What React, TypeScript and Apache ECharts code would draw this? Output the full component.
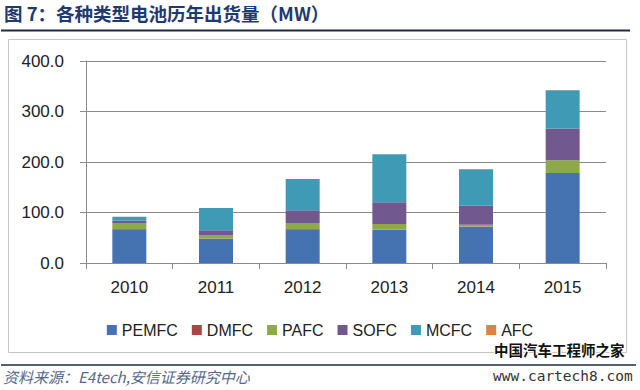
import React, { useEffect, useRef } from "react";
import * as echarts from "echarts";

const years = ["2010", "2011", "2012", "2013", "2014", "2015"];
const seriesNames = ["PEMFC", "DMFC", "PAFC", "SOFC", "MCFC", "AFC"];
const PEMFC = [67, 48, 67, 66, 72, 178];
const DMFC = [0.4, 0.3, 0.3, 0.3, 0.3, 0.3];
const PAFC = [12, 6, 12, 11, 3.5, 25];
const SOFC = [5, 10.5, 25, 43, 37.5, 63];
const MCFC = [7, 44, 62, 95, 72.5, 76];
const AFC = [0.1, 0.1, 0.1, 0.1, 0.1, 0.1];
const colors = ["#4572B0", "#AA4643", "#8DAA4B", "#71588F", "#3F9BB5", "#DB843D"];

const titleText = "图 7：各种类型电池历年出货量（MW）";
const sourceText = "资料来源：E4tech,安信证券研究中心";

export default function App() {
  const ref = useRef<HTMLDivElement>(null);
  useEffect(() => {
    if (!ref.current) return;
    const chart = echarts.init(ref.current, null, { renderer: "svg" });
    const dataSets = [PEMFC, DMFC, PAFC, SOFC, MCFC, AFC];
    const font = "'Liberation Sans', Arial, sans-serif";
    chart.setOption({
      animation: false,
      color: colors,
      textStyle: { fontFamily: font },
      grid: { left: 86, right: 34, top: 61, bottom: 127, containLabel: false },
      legend: {
        data: seriesNames,
        left: "center",
        top: 317,
        icon: "rect",
        itemWidth: 10,
        itemHeight: 10,
        itemGap: 14,
        textStyle: { fontSize: 16, color: "#222", fontFamily: font },
      },
      xAxis: {
        type: "category",
        data: years,
        axisLine: { show: true, lineStyle: { color: "#8a8a8a", width: 1 } },
        axisTick: { show: true, length: 6, lineStyle: { color: "#8a8a8a" } },
        axisLabel: { fontSize: 17, color: "#222", margin: 16, fontFamily: font },
      },
      yAxis: {
        type: "value",
        min: 0,
        max: 400,
        interval: 100,
        axisLine: { show: true, lineStyle: { color: "#8a8a8a", width: 1 } },
        axisTick: { show: true, length: 6, lineStyle: { color: "#8a8a8a" } },
        axisLabel: {
          fontSize: 17,
          color: "#222",
          margin: 22,
          fontFamily: font,
          formatter: (v: number) => v.toFixed(1),
        },
        splitLine: { show: true, lineStyle: { color: "#8a8a8a", width: 1 } },
      },
      series: seriesNames.map((name, i) => ({
        name,
        type: "bar",
        stack: "total",
        barWidth: 34,
        data: dataSets[i],
        itemStyle: { color: colors[i] },
      })),
      graphic: [
        {
          type: "text",
          left: 4,
          top: 4,
          style: {
            text: titleText,
            fontSize: 18.5,
            fontWeight: "bold",
            fill: "#1F3A70",
            fontFamily: "'Noto Sans CJK SC', sans-serif",
          },
        },
        {
          type: "line",
          shape: { x1: 1, y1: 30.5, x2: 630, y2: 30.5 },
          style: { stroke: "#1d2a48", lineWidth: 2 },
        },
        {
          type: "rect",
          shape: { x: 8.5, y: 39.5, width: 618, height: 313 },
          style: { fill: "none", stroke: "#c4c4c4", lineWidth: 1 },
          z: -1,
        },
        {
          type: "line",
          shape: { x1: 1, y1: 365, x2: 636, y2: 365 },
          style: { stroke: "#1d2a48", lineWidth: 1.5 },
        },
        {
          type: "text",
          left: 3,
          top: 369,
          style: {
            text: sourceText,
            fontSize: 15,
            fontStyle: "italic",
            fill: "#56688a",
            fontFamily: "'Noto Sans CJK SC', sans-serif",
          },
        },
        {
          type: "text",
          left: 493,
          top: 341,
          style: {
            text: "中国汽车工程师之家",
            fontSize: 14.5,
            lineHeight: 15,
            fontWeight: "bold",
            fill: "#111",
            stroke: "#fff",
            lineWidth: 2,
            fontFamily: "'Noto Sans CJK SC', sans-serif",
          },
        },
        {
          type: "text",
          left: 493,
          top: 368,
          style: {
            text: "www.cartech8.com",
            fontSize: 14.5,
            fill: "#333",
            fontFamily: "'DejaVu Sans Mono', monospace",
          },
        },
      ],
    });
    return () => chart.dispose();
  }, []);
  return (
    <div
      ref={ref}
      style={{ position: "fixed", left: 0, top: 0, width: 640, height: 390, background: "#fff" }}
    />
  );
}
